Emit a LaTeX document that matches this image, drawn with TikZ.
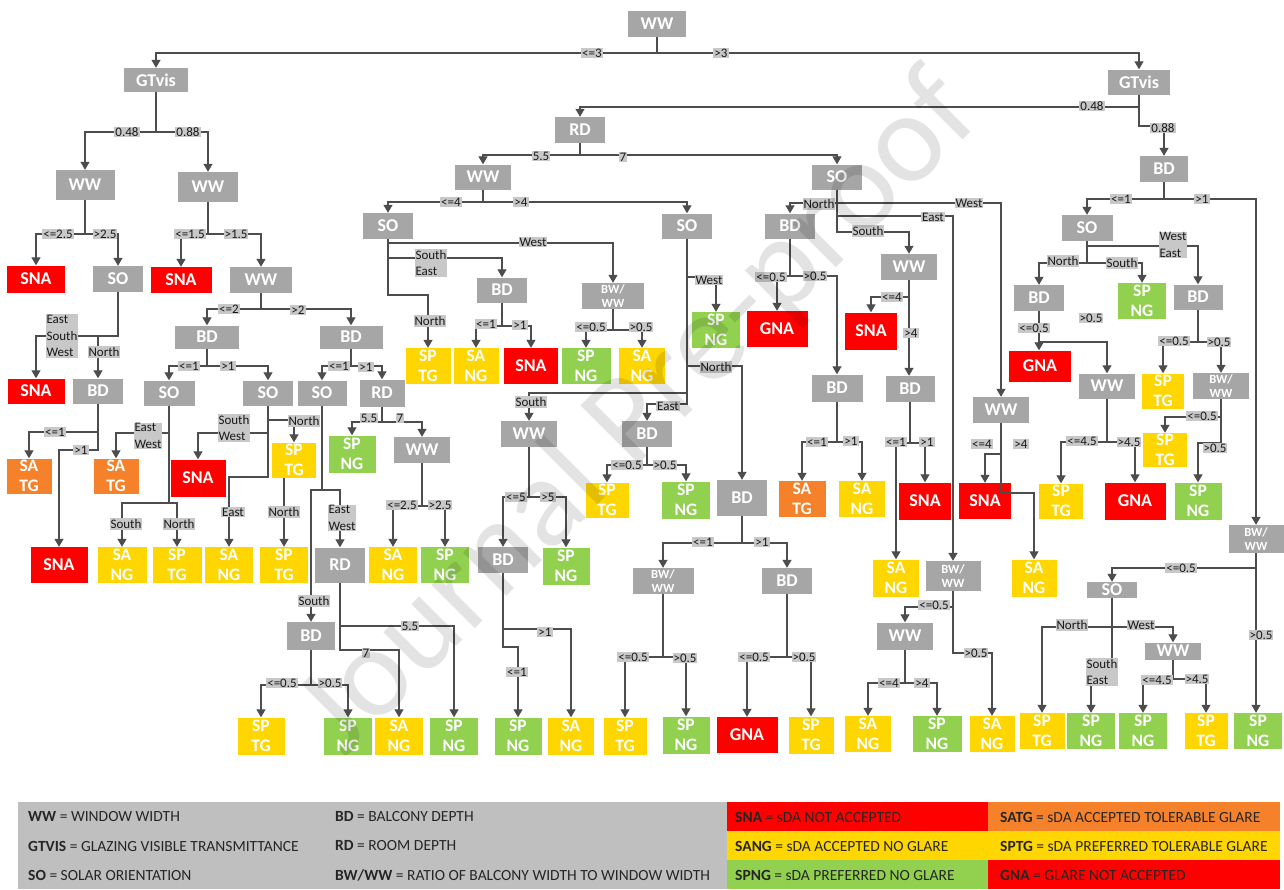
\documentclass[tikz,border=0pt]{standalone}
\usepackage{fontspec}
\setmainfont{Carlito}
\usetikzlibrary{arrows.meta}
\definecolor{ngrey}{HTML}{A6A6A6}
\definecolor{lgrey}{HTML}{C8C8C8}
\definecolor{legg}{HTML}{BFBFBF}
\definecolor{cred}{HTML}{FF0000}
\definecolor{corg}{HTML}{F5822A}
\definecolor{cyel}{HTML}{FFD600}
\definecolor{cgrn}{HTML}{92D050}
\definecolor{lcol}{HTML}{4D4D4D}
\tikzset{
 box/.style={inner sep=0pt, align=center, text=white, font=\bfseries\fontsize{18}{19}\selectfont},
 gnode/.style={box, fill=ngrey},
 bwnode/.style={box, fill=ngrey, font=\bfseries\fontsize{12.5}{14.5}\selectfont},
 two/.style={font=\bfseries\fontsize{17.5}{19.5}\selectfont},
 redb/.style={box, fill=cred},
 orgb/.style={box, fill=corg, two},
 yelb/.style={box, fill=cyel, two},
 grnb/.style={box, fill=cgrn, two},
 elab/.style={fill=lgrey, inner sep=1pt, font=\fontsize{13}{16.5}\selectfont, text=black!90, align=left},
 arr/.style={draw=lcol, line width=1.2pt, -{Triangle[width=9pt,length=8pt]}},
 legt/.style={anchor=west, inner sep=0pt, font=\fontsize{15.5}{17}\selectfont, text=black!85},
}
\newcommand\mknode[6]{\node[#1,minimum width=#5pt,minimum height=#6pt] (#2) at (#3) {#4};}
\newcommand\brc[3]{\draw[arr] (#1.south) -- (#1.south |- 0,#2) -| (#3.north);}
\newcommand\elbl[3]{\node[elab] (L#1-#2) at (#1,#2) {#3};}
\begin{document}
\begin{tikzpicture}[x=1pt,y=-1pt]
\fill[white] (0,0) rectangle (1284,889);
\useasboundingbox (0,0) rectangle (1284,889);
% ---------- inner nodes
\mknode{gnode}{n0}{657,24}{WW}{58}{26}
\mknode{gnode}{gL}{156,80}{GTvis}{64}{24}
\mknode{gnode}{gR}{1139,82}{GTvis}{62}{25}
\mknode{gnode}{wa}{85,185}{WW}{59}{30}
\mknode{gnode}{wb}{208,187}{WW}{60}{30}
\mknode{gnode}{soa}{118,279}{SO}{50}{26}
\mknode{gnode}{wc}{261,280}{WW}{62}{26}
\mknode{gnode}{bda}{98,391}{BD}{50}{25}
\mknode{gnode}{bdb}{207,337}{BD}{64}{23}
\mknode{gnode}{bdc}{351,337}{BD}{63}{23}
\mknode{gnode}{sob}{169,393}{SO}{51}{25}
\mknode{gnode}{soc}{268,393}{SO}{50}{25}
\mknode{gnode}{sod}{322,393}{SO}{49}{25}
\mknode{gnode}{rda}{382,393}{RD}{45}{27}
\mknode{gnode}{wd}{422,450}{WW}{56}{26}
\mknode{gnode}{rdb}{340,565}{RD}{50}{35}
\mknode{gnode}{bdd}{311,636}{BD}{48}{28}
\mknode{gnode}{rdt}{580,130}{RD}{50}{26}
\mknode{gnode}{we}{483,177}{WW}{56}{25}
\mknode{gnode}{soe}{388,226}{SO}{50}{26}
\mknode{gnode}{sof}{687,226}{SO}{50}{25}
\mknode{gnode}{bde}{502,290}{BD}{50}{25}
\mknode{bwnode}{bwa}{613,296}{BW/\\WW}{62}{26}
\mknode{gnode}{wf}{529,434}{WW}{56}{26}
\mknode{gnode}{bdg}{647,434}{BD}{50}{26}
\mknode{gnode}{bdh}{503,560}{BD}{50}{26}
\mknode{gnode}{bdf}{742,498}{BD}{50}{36}
\mknode{bwnode}{bwb}{663,581}{BW/\\WW}{61}{26}
\mknode{gnode}{bdi}{787,581}{BD}{50}{26}
\mknode{gnode}{sor}{837,177}{SO}{50}{25}
\mknode{gnode}{bdj}{790,226}{BD}{50}{25}
\mknode{gnode}{bdk}{837,388}{BD}{51}{27}
\mknode{gnode}{wg}{909,267}{WW}{56}{26}
\mknode{gnode}{bdl}{910,389}{BD}{49}{26}
\mknode{gnode}{wh}{1001,410}{WW}{56}{26}
\mknode{bwnode}{bwc}{953,576}{BW/\\WW}{55}{30}
\mknode{gnode}{wi}{905,636}{WW}{56}{27}
\mknode{gnode}{bdr}{1164,169}{BD}{48}{26}
\mknode{gnode}{sog}{1087,228}{SO}{51}{26}
\mknode{gnode}{bdn}{1039,298}{BD}{50}{26}
\mknode{gnode}{wj}{1107,386}{WW}{56}{25}
\mknode{gnode}{bdm}{1198,297}{BD}{49}{25}
\mknode{bwnode}{bwe}{1221,386}{BW/\\WW}{56}{26}
\mknode{bwnode}{bwd}{1256,539}{BW/\\WW}{55}{28}
\mknode{gnode}{soh}{1112,590}{SO}{50}{16}
\mknode{gnode}{wk}{1173,651}{WW}{56}{17}
% ---------- leaves
\mknode{redb}{sna1}{36,279}{SNA}{58}{27}
\mknode{redb}{sna2}{181,280}{SNA}{61}{26}
\mknode{redb}{sna3}{36,391}{SNA}{57}{25}
\mknode{orgb}{satg1}{29,476}{SA\\TG}{45}{35}
\mknode{orgb}{satg2}{116,476}{SA\\TG}{45}{35}
\mknode{redb}{sna4}{59,565}{SNA}{57}{36}
\mknode{yelb}{sang1}{122,565}{SA\\NG}{49}{36}
\mknode{yelb}{sptg1}{177,565}{SP\\TG}{49}{36}
\mknode{redb}{sna5}{198,478}{SNA}{55}{37}
\mknode{yelb}{sptg2}{294,460}{SP\\TG}{44}{35}
\mknode{yelb}{sang2}{229,565}{SA\\NG}{48}{36}
\mknode{yelb}{sptg3}{284,565}{SP\\TG}{48}{36}
\mknode{grnb}{spng1}{352,454}{SP\\NG}{47}{37}
\mknode{yelb}{sang3}{393,565}{SA\\NG}{48}{36}
\mknode{grnb}{spng2}{445,565}{SP\\NG}{48}{36}
\mknode{yelb}{sptg4}{261,736}{SP\\TG}{47}{37}
\mknode{grnb}{spng3}{348,736}{SP\\NG}{48}{37}
\mknode{yelb}{sang4}{399,736}{SA\\NG}{48}{37}
\mknode{grnb}{spng4}{454,736}{SP\\NG}{48}{37}
\mknode{yelb}{sptg5}{428,366}{SP\\TG}{45}{36}
\mknode{yelb}{sang5}{476,366}{SA\\NG}{45}{36}
\mknode{redb}{sna6}{531,366}{SNA}{54}{36}
\mknode{grnb}{spng5}{586,366}{SP\\NG}{49}{36}
\mknode{yelb}{sang6}{642,366}{SA\\NG}{46}{36}
\mknode{grnb}{spng6}{716,330}{SP\\NG}{48}{36}
\mknode{yelb}{sptg6}{607,500}{SP\\TG}{43}{35}
\mknode{grnb}{spng7}{686,500}{SP\\NG}{48}{37}
\mknode{grnb}{spng8}{566,566}{SP\\NG}{47}{37}
\mknode{grnb}{spng9}{518,736}{SP\\NG}{47}{37}
\mknode{yelb}{sang7}{571,736}{SA\\NG}{46}{37}
\mknode{yelb}{sptg7}{625,736}{SP\\TG}{43}{37}
\mknode{grnb}{spng10}{686,735}{SP\\NG}{47}{37}
\mknode{redb}{gna1}{747,735}{GNA}{61}{36}
\mknode{yelb}{sptg8}{811,735}{SP\\TG}{45}{37}
\mknode{redb}{gna2}{777,329}{GNA}{61}{36}
\mknode{orgb}{satg3}{802,499}{SA\\TG}{47}{36}
\mknode{yelb}{sang8}{862,499}{SA\\NG}{46}{36}
\mknode{redb}{sna7}{871,331}{SNA}{52}{37}
\mknode{redb}{sna8}{925,501}{SNA}{52}{37}
\mknode{redb}{sna9}{985,501}{SNA}{52}{36}
\mknode{yelb}{sang9}{896,578}{SA\\NG}{46}{37}
\mknode{yelb}{sang10}{1034,578}{SA\\NG}{45}{37}
\mknode{yelb}{sang11}{868,734}{SA\\NG}{46}{36}
\mknode{grnb}{spng11}{937,734}{SP\\NG}{49}{36}
\mknode{yelb}{sang12}{992,734}{SA\\NG}{45}{36}
\mknode{grnb}{spng12}{1142,301}{SP\\NG}{48}{36}
\mknode{redb}{gna3}{1040,366}{GNA}{62}{31}
\mknode{yelb}{sptg9}{1061,501}{SP\\TG}{44}{35}
\mknode{redb}{gna4}{1135,501}{GNA}{61}{37}
\mknode{yelb}{sptg10}{1163,391}{SP\\TG}{42}{35}
\mknode{yelb}{sptg11}{1165,450}{SP\\TG}{44}{34}
\mknode{grnb}{spng13}{1198,501}{SP\\NG}{47}{37}
\mknode{yelb}{sptg12}{1042,731}{SP\\TG}{45}{36}
\mknode{grnb}{spng14}{1091,731}{SP\\NG}{48}{36}
\mknode{grnb}{spng15}{1143,731}{SP\\NG}{48}{36}
\mknode{yelb}{sptg13}{1206,731}{SP\\TG}{43}{36}
\mknode{grnb}{spng16}{1258,731}{SP\\NG}{48}{36}
% ---------- connectors
\brc{n0}{53}{gL} \brc{n0}{53}{gR}
\brc{gL}{132}{wa} \brc{gL}{132}{wb}
\brc{wa}{234}{sna1} \brc{wa}{234}{soa}
\brc{wb}{234}{sna2} \brc{wb}{234}{wc}
\brc{soa}{336}{sna3} \brc{soa}{336}{bda}
\brc{bda}{432}{satg1} \brc{bda}{450}{sna4}
\brc{wc}{309}{bdb} \brc{wc}{309}{bdc}
\brc{bdb}{366}{sob} \brc{bdb}{366}{soc}
\brc{bdc}{366}{sod} \brc{bdc}{366}{rda}
\brc{sob}{433}{satg2} \brc{sob}{503}{sang1} \brc{sob}{503}{sptg1}
\brc{soc}{433}{sna5} \brc{soc}{477}{sang2}
\draw[arr] (soc.south |- 0,420) -| (sptg2.north);
\draw[arr] (sptg2.south -| sptg3.north) -- (sptg3.north);
\brc{sod}{490}{bdd} \brc{sod}{490}{rdb}
\brc{bdd}{685}{sptg4} \brc{bdd}{685}{spng3}
\brc{rdb}{626}{spng4} \brc{rdb}{650}{sang4}
\brc{rda}{422}{spng1} \brc{rda}{422}{wd}
\brc{wd}{506}{sang3} \brc{wd}{506}{spng2}
\brc{gR}{107}{rdt} \brc{gR}{126}{bdr}
\brc{rdt}{155}{we} \brc{rdt}{155}{sor}
\brc{we}{202}{soe} \brc{we}{202}{sof}
\brc{soe}{243}{bwa} \brc{soe}{258}{bde} \brc{soe}{295}{sptg5}
\brc{bde}{326}{sang5} \brc{bde}{326}{sna6}
\brc{bwa}{330}{spng5} \brc{bwa}{330}{sang6}
\brc{sof}{277}{spng6} \brc{sof}{366}{bdf} \brc{sof}{393}{wf} \brc{sof}{404}{bdg}
\brc{wf}{497}{bdh} \brc{wf}{497}{spng8}
\brc{bdh}{629}{sang7} \brc{bdh}{647}{spng9}
\brc{bdg}{465}{sptg6} \brc{bdg}{465}{spng7}
\brc{bdf}{543}{bwb} \brc{bdf}{543}{bdi}
\brc{bwb}{657}{sptg7} \brc{bwb}{657}{spng10}
\brc{bdi}{657}{gna1} \brc{bdi}{657}{sptg8}
\brc{sor}{203}{bdj} \brc{sor}{203}{wh} \brc{sor}{216}{bwc} \brc{sor}{232}{wg}
\brc{bdj}{276}{gna2} \brc{bdj}{276}{bdk}
\brc{bdk}{442}{satg3} \brc{bdk}{442}{sang8}
\brc{wg}{297}{sna7}
\draw[arr] (wg.south) -- (wg.south |- bdl.north);
\brc{bdl}{443}{sna8} \brc{bdl}{443}{sang9}
\brc{wh}{454}{sna9} \brc{wh}{493}{sang10}
\brc{bwc}{607}{wi} \brc{bwc}{653}{sang12}
\brc{wi}{683}{sang11} \brc{wi}{683}{spng11}
\brc{bdr}{199}{sog} \brc{bdr}{199}{bwd}
\brc{sog}{246}{bdm} \brc{sog}{263}{bdn} \brc{sog}{263}{spng12}
\draw[arr] (bdn.south) -- (bdn.south |- gna3.north);
\brc{bdn}{342}{wj}
\brc{wj}{442}{sptg9} \brc{wj}{442}{gna4}
\brc{bdm}{342}{sptg10} \brc{bdm}{342}{bwe}
\brc{bwe}{417}{sptg11} \brc{bwe}{443}{spng13}
\draw[arr] (bwd.south) -- (bwd.south |- spng16.north);
\brc{bwd}{568}{soh}
\brc{soh}{627}{sptg12} \brc{soh}{627}{wk} \brc{soh}{660}{spng14}
\brc{wk}{679}{spng15} \brc{wk}{679}{sptg13}
% ---------- edge labels
\elbl{592}{53}{<=3} \elbl{721}{53}{>3}
\elbl{127}{132}{0.48} \elbl{188}{132}{0.88}
\elbl{58}{234}{<=2.5} \elbl{105}{234}{>2.5}
\elbl{190}{234}{<=1.5} \elbl{236}{234}{>1.5}
\elbl{62}{336}{East\\South\\West} \elbl{104}{352}{North}
\elbl{55}{432}{<=1} \elbl{81}{450}{>1}
\elbl{229}{309}{<=2} \elbl{298}{310}{>2}
\elbl{189}{366}{<=1} \elbl{228}{366}{>1}
\elbl{339}{366}{<=1} \elbl{366}{367}{>1}
\elbl{148}{436}{East\\West}
\elbl{126}{524}{South} \elbl{179}{524}{North}
\elbl{234}{428}{South\\West}
\elbl{304}{421}{North}
\elbl{233}{512}{East} \elbl{284}{512}{North}
\elbl{314}{601}{South} \elbl{342}{518}{East\\West}
\elbl{282}{683}{<=0.5} \elbl{330}{683}{>0.5}
\elbl{410}{626}{5.5} \elbl{366}{653}{7}
\elbl{369}{418}{5.5} \elbl{400}{418}{7}
\elbl{402}{505}{<=2.5} \elbl{440}{505}{>2.5}
\elbl{1092}{106}{0.48} \elbl{1163}{128}{0.88}
\elbl{541}{156}{5.5} \elbl{623}{157}{7}
\elbl{451}{202}{<=4} \elbl{521}{202}{>4}
\elbl{533}{242}{West} \elbl{431}{263}{South\\East} \elbl{430}{321}{North}
\elbl{486}{324}{<=1} \elbl{520}{325}{>1}
\elbl{591}{327}{<=0.5} \elbl{641}{327}{>0.5}
\elbl{709}{280}{West} \elbl{716}{367}{North} \elbl{668}{406}{East} \elbl{531}{402}{South}
\elbl{627}{465}{<=0.5} \elbl{665}{465}{>0.5}
\elbl{516}{497}{<=5} \elbl{548}{497}{>5}
\elbl{545}{632}{>1} \elbl{517}{672}{<=1}
\elbl{703}{542}{<=1} \elbl{762}{542}{>1}
\elbl{633}{657}{<=0.5} \elbl{685}{658}{>0.5}
\elbl{754}{657}{<=0.5} \elbl{804}{657}{>0.5}
\elbl{819}{204}{North} \elbl{969}{203}{West} \elbl{933}{217}{East} \elbl{868}{231}{South}
\elbl{771}{277}{<=0.5} \elbl{815}{276}{>0.5}
\elbl{817}{442}{<=1} \elbl{851}{441}{>1}
\elbl{892}{297}{<=4} \elbl{911}{333}{>4}
\elbl{896}{442}{<=1} \elbl{927}{442}{>1}
\elbl{982}{444}{<=4} \elbl{1021}{444}{>4}
\elbl{934}{605}{<=0.5} \elbl{976}{653}{>0.5}
\elbl{889}{683}{<=4} \elbl{922}{683}{>4}
\elbl{1121}{199}{<=1} \elbl{1202}{199}{>1}
\elbl{1173}{245}{West\\East} \elbl{1063}{261}{North} \elbl{1122}{263}{South}
\elbl{1034}{328}{<=0.5} \elbl{1091}{318}{>0.5}
\elbl{1082}{441}{<=4.5} \elbl{1129}{442}{>4.5}
\elbl{1174}{341}{<=0.5} \elbl{1219}{342}{>0.5}
\elbl{1202}{416}{<=0.5} \elbl{1215}{448}{>0.5}
\elbl{1181}{568}{<=0.5} \elbl{1261}{635}{>0.5}
\elbl{1072}{625}{North} \elbl{1141}{625}{West} \elbl{1102}{672}{South\\East}
\elbl{1157}{680}{<=4.5} \elbl{1197}{679}{>4.5}
% ---------- legend
\fill[legg] (18,802) rectangle (727,889);
\fill[cred] (727,802) rectangle (988,831);
\fill[corg] (988,802) rectangle (1280,831);
\fill[cyel] (727,831) rectangle (1280,860);
\fill[cgrn] (727,860) rectangle (988,889);
\fill[cred] (988,860) rectangle (1280,889);
\node[legt] (lg1) at (28,817) {\textbf{WW} = WINDOW WIDTH};
\node[legt] (lg2) at (28,846) {\textbf{GTVIS} = GLAZING VISIBLE TRANSMITTANCE};
\node[legt] (lg3) at (28,875) {\textbf{SO} = SOLAR ORIENTATION};
\node[legt] (lg4) at (335,817) {\textbf{BD} = BALCONY DEPTH};
\node[legt] (lg5) at (335,846) {\textbf{RD} = ROOM DEPTH};
\node[legt] (lg6) at (335,875) {\textbf{BW/WW} = RATIO OF BALCONY WIDTH TO WINDOW WIDTH};
\node[legt] (lg7) at (735,817) {\textbf{SNA} = sDA NOT ACCEPTED};
\node[legt] (lg8) at (1000,817) {\textbf{SATG} = sDA ACCEPTED TOLERABLE GLARE};
\node[legt] (lg9) at (735,846) {\textbf{SANG} = sDA ACCEPTED NO GLARE};
\node[legt] (lg10) at (1000,846) {\textbf{SPTG} = sDA PREFERRED TOLERABLE GLARE};
\node[legt] (lg11) at (735,875) {\textbf{SPNG} = sDA PREFERRED NO GLARE};
\node[legt] (lg12) at (1000,875) {\textbf{GNA} = GLARE NOT ACCEPTED};
% ---------- watermark
\node[rotate=45, text=black, opacity=0.11, font=\fontsize{128}{128}\selectfont] (wm) at (640,415) {Journal Pre-proof};
\end{tikzpicture}
\end{document}
